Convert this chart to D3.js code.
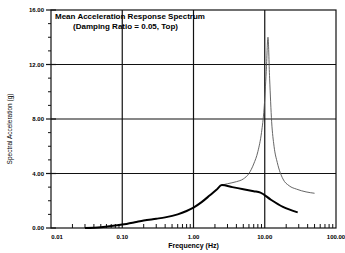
<!DOCTYPE html>
<html>
<head>
<meta charset="utf-8">
<script src="https://cdn.jsdelivr.net/npm/d3@7"></script>
<style>
  body { margin: 0; background: #fff; }
  svg { display: block; font-family: "Liberation Sans", Arial, sans-serif; }
</style>
</head>
<body>
<div class="chart"></div>
<script>
// thick curve
var baseFreq = [0.03, 0.05, 0.07, 0.1, 0.15, 0.2, 0.3, 0.4, 0.6, 0.8, 1.0, 1.3, 1.7, 2.1, 2.5, 3.5, 5, 7, 8.7, 12, 18, 29];
var baseAcc  = [0.0, 0.06, 0.14, 0.25, 0.42, 0.55, 0.68, 0.78, 1.0, 1.25, 1.5, 1.9, 2.4, 2.8, 3.15, 3.0, 2.85, 2.7, 2.6, 2.1, 1.55, 1.15];
// thin curve (resonance)
var topFreq = [2.5, 3.0, 4.0, 5.0, 6.0, 7.0, 8.0, 9.0, 9.8, 10.5, 11.1, 11.7, 12.5, 13.5, 15, 18, 22, 28, 38, 50];
var topAcc  = [3.15, 3.25, 3.4, 3.6, 4.0, 4.7, 5.6, 7.0, 8.8, 11.5, 14.0, 11.0, 7.8, 6.0, 4.8, 3.6, 3.1, 2.85, 2.65, 2.55];

var xTicks = [0.01, 0.1, 1, 10, 100];
var xTickLabels = ['0.01', '0.10', '1.00', '10.00', '100.00'];
var yTicks = [0, 4, 8, 12, 16];
var yTickLabels = ['0.00', '4.00', '8.00', '12.00', '16.00'];

var margin = { top: 10, right: 9, bottom: 25, left: 51 };
var width = 345 - margin.left - margin.right;
var height = 253 - margin.top - margin.bottom;

var svg = d3.select('.chart')
  .append('svg')
  .attr('width', 345)
  .attr('height', 253)
  .append('g')
  .attr('transform', 'translate(' + margin.left + ',' + margin.top + ')');

var xScale = d3.scaleLog().domain([0.01, 100]).range([0, width]);
var yScale = d3.scaleLinear().domain([0, 16]).range([height, 0]);

// grid
svg.selectAll('.vgrid')
  .data(xTicks.slice(1, -1))
  .enter()
  .append('line')
  .attr('x1', d => xScale(d)).attr('x2', d => xScale(d))
  .attr('y1', 0).attr('y2', height)
  .style('stroke', '#111').style('stroke-width', 1.2);

svg.selectAll('.hgrid')
  .data(yTicks.slice(1, -1))
  .enter()
  .append('line')
  .attr('x1', 0).attr('x2', width)
  .attr('y1', d => yScale(d)).attr('y2', d => yScale(d))
  .style('stroke', '#111').style('stroke-width', 1.2);

// frame
svg.append('rect')
  .attr('width', width).attr('height', height)
  .style('fill', 'none').style('stroke', '#111').style('stroke-width', 1.2);

// minor x ticks
var minorX = [];
[0.01, 0.1, 1, 10].forEach(function (dec) {
  for (var k = 2; k <= 9; k++) minorX.push(dec * k);
});
svg.selectAll('.mx')
  .data(minorX)
  .enter()
  .append('line')
  .attr('x1', d => xScale(d)).attr('x2', d => xScale(d))
  .attr('y1', height).attr('y2', height - 4)
  .style('stroke', '#111').style('stroke-width', 1);

// minor y ticks
var minorY = d3.range(0, 16.01, 1).filter(d => d % 4 !== 0);
svg.selectAll('.my')
  .data(minorY)
  .enter()
  .append('line')
  .attr('x1', -3).attr('x2', 0)
  .attr('y1', d => yScale(d)).attr('y2', d => yScale(d))
  .style('stroke', '#111').style('stroke-width', 1);

// major y ticks
svg.selectAll('.My')
  .data(yTicks)
  .enter()
  .append('line')
  .attr('x1', -5).attr('x2', 5)
  .attr('y1', d => yScale(d)).attr('y2', d => yScale(d))
  .style('stroke', '#111').style('stroke-width', 1.2);

// tick labels
svg.selectAll('.yl')
  .data(yTicks)
  .enter()
  .append('text')
  .attr('x', -7)
  .attr('y', d => yScale(d) + 2)
  .style('text-anchor', 'end')
  .style('font-size', '6px')
  .style('font-weight', 'bold')
  .text((d, i) => yTickLabels[i]);

svg.selectAll('.xl')
  .data(xTicks)
  .enter()
  .append('text')
  .attr('x', (d, i) => xScale(d) + (i === 0 ? 6 : 0))
  .attr('y', height + 11)
  .style('text-anchor', 'middle')
  .style('font-size', '6px')
  .style('font-weight', 'bold')
  .text((d, i) => xTickLabels[i]);

// axis labels
svg.append('text')
  .attr('x', width / 2)
  .attr('y', height + 20)
  .style('text-anchor', 'middle')
  .style('font-size', '7px')
  .style('font-weight', 'bold')
  .text('Frequency (Hz)');

svg.append('text')
  .attr('transform', 'translate(-39,' + (height / 2 + 10) + ') rotate(-90)')
  .style('text-anchor', 'middle')
  .style('font-size', '6.5px')
  .text('Spectral Acceleration (g)');

// title
svg.append('text')
  .attr('x', 4).attr('y', 9)
  .style('font-size', '8px')
  .style('font-weight', 'bold')
  .text('Mean  Acceleration Response Spectrum');
svg.append('text')
  .attr('x', 22).attr('y', 19)
  .style('font-size', '8px')
  .style('font-weight', 'bold')
  .text('(Damping Ratio = 0.05, Top)');

// curves
var line = d3.line()
  .x(d => xScale(d[0]))
  .y(d => yScale(d[1]))
  .curve(d3.curveMonotoneX);

svg.append('path')
  .datum(d3.zip(topFreq, topAcc))
  .attr('d', line)
  .style('fill', 'none')
  .style('stroke', '#555')
  .style('stroke-width', 0.9);

svg.append('path')
  .datum(d3.zip(baseFreq, baseAcc))
  .attr('d', line)
  .style('fill', 'none')
  .style('stroke', '#000')
  .style('stroke-width', 2)
  .style('stroke-linejoin', 'round');
</script>
</body>
</html>
